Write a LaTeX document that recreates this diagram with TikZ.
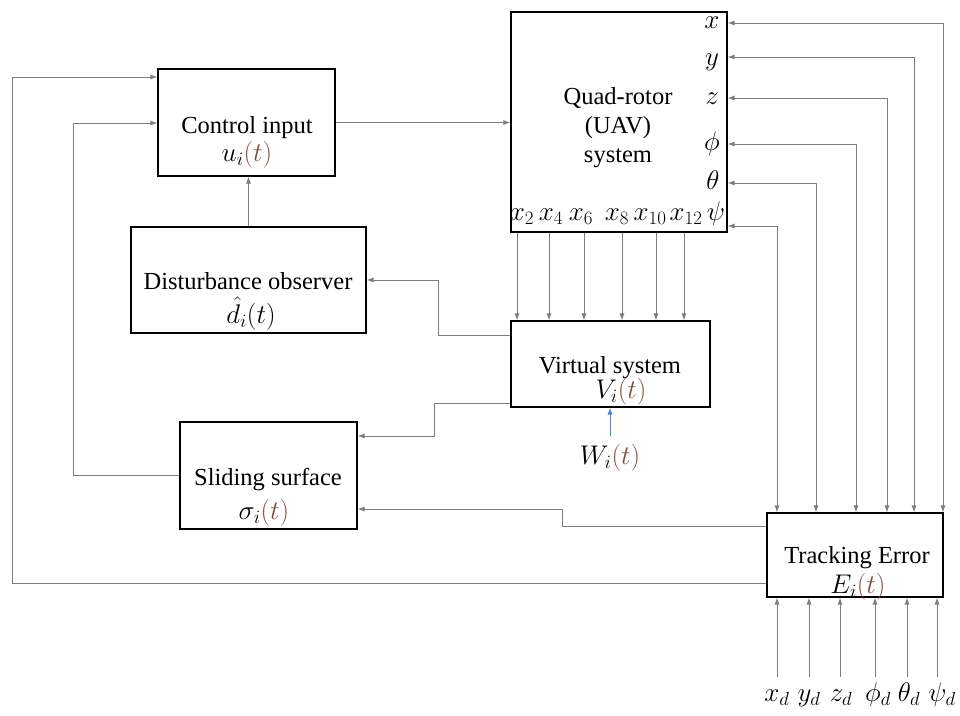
\RequirePackage{fix-cm}
\documentclass[tikz,border=0pt]{standalone}
\usepackage{fontspec}
\setmainfont{Liberation Serif}
\newfontfamily\tnr{Liberation Serif}
\usetikzlibrary{arrows.meta}
\definecolor{tbrown}{RGB}{125,80,70}
\definecolor{wirec}{RGB}{125,125,125}
\definecolor{wblue}{RGB}{80,125,215}
\newcommand{\brt}{{\color{tbrown}(t)}}
\begin{document}
\begin{tikzpicture}[x=1pt,y=-1pt,
  font=\tnr\fontsize{24.5}{29}\selectfont,
  box/.style={draw=black,line width=1.1pt,inner sep=0pt,fill=none},
  lbl/.style={anchor=base,inner sep=0pt},
  mlbl/.style={anchor=base,inner sep=0pt,font=\tnr\fontsize{27}{30}\selectfont},
  wire/.style={draw=wirec,line width=0.9pt},
  arr/.style={wire,-{Latex[length=7pt,width=5pt]}},
  darr/.style={wire,{Latex[length=7pt,width=5pt]}-{Latex[length=7pt,width=5pt]}}]
\useasboundingbox (0,0) rectangle (960,715);

% boxes
\node[box,minimum width=177pt,minimum height=107pt] (ci) at (246.5,122.5) {};
\node[box,minimum width=235pt,minimum height=106pt] (do) at (248.5,280) {};
\node[box,minimum width=216pt,minimum height=220pt] (qr) at (619,122) {};
\node[box,minimum width=199pt,minimum height=86pt] (vs) at (610.5,364) {};
\node[box,minimum width=177pt,minimum height=107pt] (ss) at (268.5,475.5) {};
\node[box,minimum width=176pt,minimum height=84pt] (te) at (855,555) {};

% box texts
\node[lbl] (ci1) at (247,133) {Control input};
\node[mlbl] (ci2) at (247,161) {$u_i\brt$};
\node[lbl] (do1) at (248,289) {Disturbance observer};
\node[mlbl] (do2) at (251,323) {$\hat{d}_i(t)$};
\node[lbl] (qr1) at (618,104) {Quad-rotor};
\node[lbl] (qr2) at (618,133) {(UAV)};
\node[lbl] (qr3) at (618,162) {system};
\node[lbl] (vs1) at (610,373) {Virtual system};
\node[mlbl] (vs2) at (621,398) {$V_i\brt$};
\node[lbl] (ss1) at (268,485) {Sliding surface};
\node[mlbl] (ss2) at (264,519) {$\sigma_i\brt$};
\node[lbl] (te1) at (857,563) {Tracking Error};
\node[mlbl] (te2) at (858,593) {$E_i\brt$};
\node[mlbl] (wi) at (610,464) {$W_i\brt$};

% quad-rotor output labels (right side)
\node[mlbl] (ox) at (712,28) {$x$};
\node[mlbl] (oy) at (712,65) {$y$};
\node[mlbl] (oz) at (712,104) {$z$};
\node[mlbl] (ophi) at (712,150) {$\phi$};
\node[mlbl] (oth) at (713,189) {$\theta$};
% quad-rotor bottom labels
\node[mlbl] (b2) at (522,220) {$x_2$};
\node[mlbl] (b4) at (551,220) {$x_4$};
\node[mlbl] (b6) at (581,220) {$x_6$};
\node[mlbl] (b8) at (617,220) {$x_8$};
\node[mlbl] (b10) at (650,220) {$x_{10}$};
\node[mlbl] (b12) at (686,220) {$x_{12}$};
\node[mlbl] (bpsi) at (716,220) {$\psi$};

% desired inputs
\node[mlbl] (xd) at (777,701) {$x_d$};
\node[mlbl] (yd) at (809,701) {$y_d$};
\node[mlbl] (zd) at (841,701) {$z_d$};
\node[mlbl] (phid) at (878,701) {$\phi_d$};
\node[mlbl] (thd) at (909,701) {$\theta_d$};
\node[mlbl] (psid) at (942,701) {$\psi_d$};

% connectors
\draw[arr] (ci.east) -- (ci.east -| qr.west);
\draw[arr] (do.north) -- (do.north |- ci.south);
\draw[arr] (vs.west |- 0,335) -- (438,335) -- (438,280) -- (do.east |- 0,280);
\draw[arr] (vs.west |- 0,403) -- (434,403) -- (434,436) -- (ss.east |- 0,436);
\draw[arr] (te.west |- 0,526) -- (562,526) -- (562,509) -- (ss.east |- 0,509);
\draw[arr] (te.west |- 0,583) -- (12,583) -- (12,77) -- (ci.west |- 0,77);
\draw[arr] (ss.west) -- (73,475.5) -- (73,123) -- (ci.west |- 0,123);

% quad-rotor -> virtual system
\foreach \xx in {517,549,584,622,656,684}
  \draw[arr] (qr.south -| \xx,0) -- (vs.north -| \xx,0);

% quad-rotor outputs <-> tracking error
\draw[darr] (qr.east |- 0,23) -- (943,23) -- (te.north -| 943,0);
\draw[darr] (qr.east |- 0,57) -- (914,57) -- (te.north -| 914,0);
\draw[darr] (qr.east |- 0,98) -- (887,98) -- (te.north -| 887,0);
\draw[darr] (qr.east |- 0,144) -- (856,144) -- (te.north -| 856,0);
\draw[darr] (qr.east |- 0,183) -- (816,183) -- (te.north -| 816,0);
\draw[darr] (qr.east |- 0,226) -- (777,226) -- (te.north -| 777,0);

% desired inputs -> tracking error
\draw[arr] (777,677) -- (te.south -| 777,0);
\draw[arr] (809,677) -- (te.south -| 809,0);
\draw[arr] (840,677) -- (te.south -| 840,0);
\draw[arr] (875,677) -- (te.south -| 875,0);
\draw[arr] (907,677) -- (te.south -| 907,0);
\draw[arr] (937,677) -- (te.south -| 937,0);

% disturbance W -> virtual system
\draw[draw=wblue,line width=0.9pt,-{Latex[length=7pt,width=5pt]}] (wi.north |- 0,436) -- (wi.north |- vs.south);
\end{tikzpicture}
\end{document}
